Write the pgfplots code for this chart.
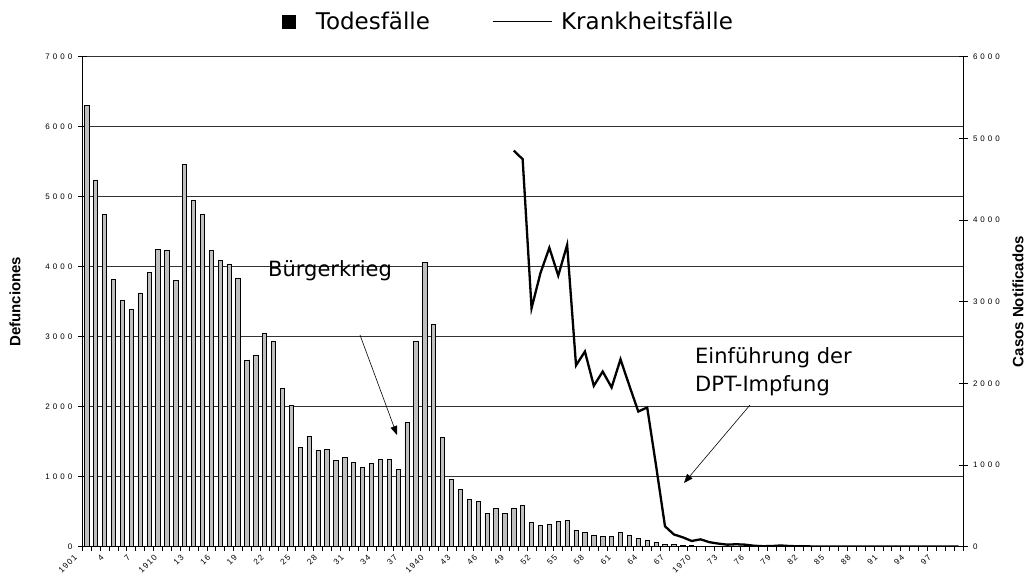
\documentclass[border=0pt]{standalone}
\usepackage{graphicx}
\usepackage{pgfplots}
\pgfplotsset{compat=1.18}
\usepackage{pgfplotstable}
\usepackage{fontspec}
\setmainfont{DejaVu Sans}
\newfontfamily\arial{Liberation Sans}
\usetikzlibrary{arrows.meta}
\newcommand\g{\hspace{3pt}}
\newcommand\gx{\kern1.3pt}
\newcommand\rl[1]{\rotatebox{45}{#1}}

\pgfplotstableread{
year deaths
1901 6300
1902 5240
1903 4750
1904 3820
1905 3515
1906 3385
1907 3625
1908 3920
1909 4250
1910 4230
1911 3800
1912 5460
1913 4950
1914 4750
1915 4230
1916 4090
1917 4040
1918 3840
1919 2660
1920 2740
1921 3050
1922 2940
1923 2260
1924 2015
1925 1415
1926 1580
1927 1370
1928 1385
1929 1230
1930 1280
1931 1210
1932 1135
1933 1185
1934 1255
1935 1245
1936 1110
1937 1775
1938 2935
1939 4060
1940 3170
1941 1565
1942 960
1943 820
1944 675
1945 650
1946 480
1947 545
1948 475
1949 555
1950 595
1951 345
1952 305
1953 320
1954 360
1955 375
1956 235
1957 210
1958 160
1959 150
1960 150
1961 205
1962 160
1963 120
1964 90
1965 67
1966 35
1967 28
1968 18
1969 14
1970 10
1971 8
1972 7
1973 6
1974 5
1975 4
1976 3
1977 3
1978 2
1979 2
1980 1
1981 1
1982 1
1983 1
1984 1
1985 1
1986 1
1987 1
1988 1
1989 1
1990 1
1991 1
1992 1
1993 1
1994 1
1995 1
1996 1
1997 1
1998 1
1999 1
}\deaths

\pgfplotstableread{
year cases
1949 4850
1950 4745
1951 2920
1952 3350
1953 3660
1954 3320
1955 3695
1956 2220
1957 2390
1958 1970
1959 2145
1960 1950
1961 2295
1962 1970
1963 1655
1964 1705
1965 990
1966 250
1967 150
1968 115
1969 70
1970 90
1971 55
1972 38
1973 25
1974 30
1975 25
1976 12
1977 6
1978 8
1979 15
1980 8
1981 5
1982 4
1983 3
1984 3
1985 2
1986 2
1987 2
1988 1
1989 1
1990 1
1991 1
1992 1
1993 1
1994 1
1995 1
1996 1
1997 1
1998 1
1999 1
}\cases

\begin{document}
\begin{tikzpicture}
\useasboundingbox (0pt,0pt) rectangle (1028pt,576pt);
\begin{axis}[
  at={(82.3pt,29.3pt)}, anchor=south west,
  scale only axis, width=880.7pt, height=490pt,
  xmin=1900.5, xmax=1999.5, ymin=0, ymax=7000,
  axis x line*=bottom, axis y line*=left,
  axis line style={-, black, line width=0.8pt},
  xtick={1901,1904,...,1997},
  xticklabels={\rl{1\gx9\gx0\gx1},\rl{4},\rl{7},\rl{1\gx9\gx1\gx0},\rl{1\gx3},\rl{1\gx6},\rl{1\gx9},\rl{2\gx2},\rl{2\gx5},\rl{2\gx8},\rl{3\gx1},\rl{3\gx4},\rl{3\gx7},\rl{1\gx9\gx4\gx0},\rl{4\gx3},\rl{4\gx6},\rl{4\gx9},\rl{5\gx2},\rl{5\gx5},\rl{5\gx8},\rl{6\gx1},\rl{6\gx4},\rl{6\gx7},\rl{1\gx9\gx7\gx0},\rl{7\gx3},\rl{7\gx6},\rl{7\gx9},\rl{8\gx2},\rl{8\gx5},\rl{8\gx8},\rl{9\gx1},\rl{9\gx4},\rl{9\gx7}},
  minor xtick={1900.5,1901.5,...,1999.6},
  major x tick style={draw=none},
  minor x tick style={black, line width=0.6pt},
  minor tick length=4pt,
  xtick align=outside,
  xticklabel style={font=\arial\fontsize{8.2}{9}\selectfont, anchor=north east, inner sep=0pt, xshift=-9pt, yshift=2pt},
  ytick={0,1000,...,7000},
  yticklabels={0,1\g0\g0\g0,2\g0\g0\g0,3\g0\g0\g0,4\g0\g0\g0,5\g0\g0\g0,6\g0\g0\g0,7\g0\g0\g0},
  ytick align=center,
  major tick length=9pt,
  major y tick style={black, line width=0.7pt},
  yticklabel style={font=\arial\fontsize{8}{9}\selectfont, xshift=-2pt},
  ymajorgrids, grid style={black!80, line width=0.7pt},
  every axis y label/.style={at={(axis description cs:-0.0764,0.5)}, rotate=90, anchor=center},
  ylabel={\arial\bfseries\fontsize{15}{17}\selectfont Defunciones},
]
\addplot[ybar, bar width=4.3pt, fill=black!25, draw=black, line width=0.7pt] table[x=year,y=deaths]{\deaths};
\end{axis}
\begin{axis}[
  at={(82.3pt,29.3pt)}, anchor=south west,
  scale only axis, width=880.7pt, height=490pt,
  xmin=1900.5, xmax=1999.5, ymin=0, ymax=6000,
  axis x line=none, axis y line*=right,
  axis line style={-, black, line width=0.8pt},
  ytick={0,1000,...,6000},
  yticklabels={0,1\g0\g0\g0,2\g0\g0\g0,3\g0\g0\g0,4\g0\g0\g0,5\g0\g0\g0,6\g0\g0\g0},
  ytick align=center,
  major tick length=9pt,
  major y tick style={black, line width=0.7pt},
  yticklabel style={font=\arial\fontsize{8}{9}\selectfont, xshift=2pt},
  every axis y label/.style={at={(axis description cs:1.0625,0.5)}, rotate=90, anchor=center},
  ylabel={\arial\bfseries\fontsize{15}{17}\selectfont Casos Notificados},
  legend style={draw=none, fill=none, at={(0.483,1.072)}, anchor=center,
    legend columns=-1, font=\fontsize{23}{26}\selectfont,
    nodes={inner sep=0pt},
    /tikz/every odd column/.append style={column sep=9pt},
    /tikz/every even column/.append style={column sep=62pt}},
]
\addlegendimage{legend image code/.code={\fill[black] (0pt,-6.5pt) rectangle (13pt,6.5pt); \path (24pt,0pt);}}
\addlegendentry{Todesfälle}
\addplot[black, line width=2.3pt, mark=none, line join=miter,
  legend image code/.code={\draw[black,line width=1.2pt] (0pt,0pt) -- (59pt,0pt);}]
  table[x=year,y=cases]{\cases};
\addlegendentry{Krankheitsfälle}
\end{axis}
\node[anchor=west, font=\fontsize{21}{25}\selectfont, inner sep=0pt] at (268pt,305pt) {Bürgerkrieg};
\draw[-{Triangle[length=9pt,width=7pt]}, line width=0.6pt] (360pt,241pt) -- (397pt,141pt);
\node[anchor=north west, align=left, font=\fontsize{21}{28}\selectfont, inner sep=0pt] at (695pt,229pt) {Einführung der\\DPT-Impfung};
\draw[-{Triangle[length=9pt,width=7pt]}, line width=0.6pt] (750pt,171pt) -- (684pt,93pt);
\end{tikzpicture}
\end{document}
